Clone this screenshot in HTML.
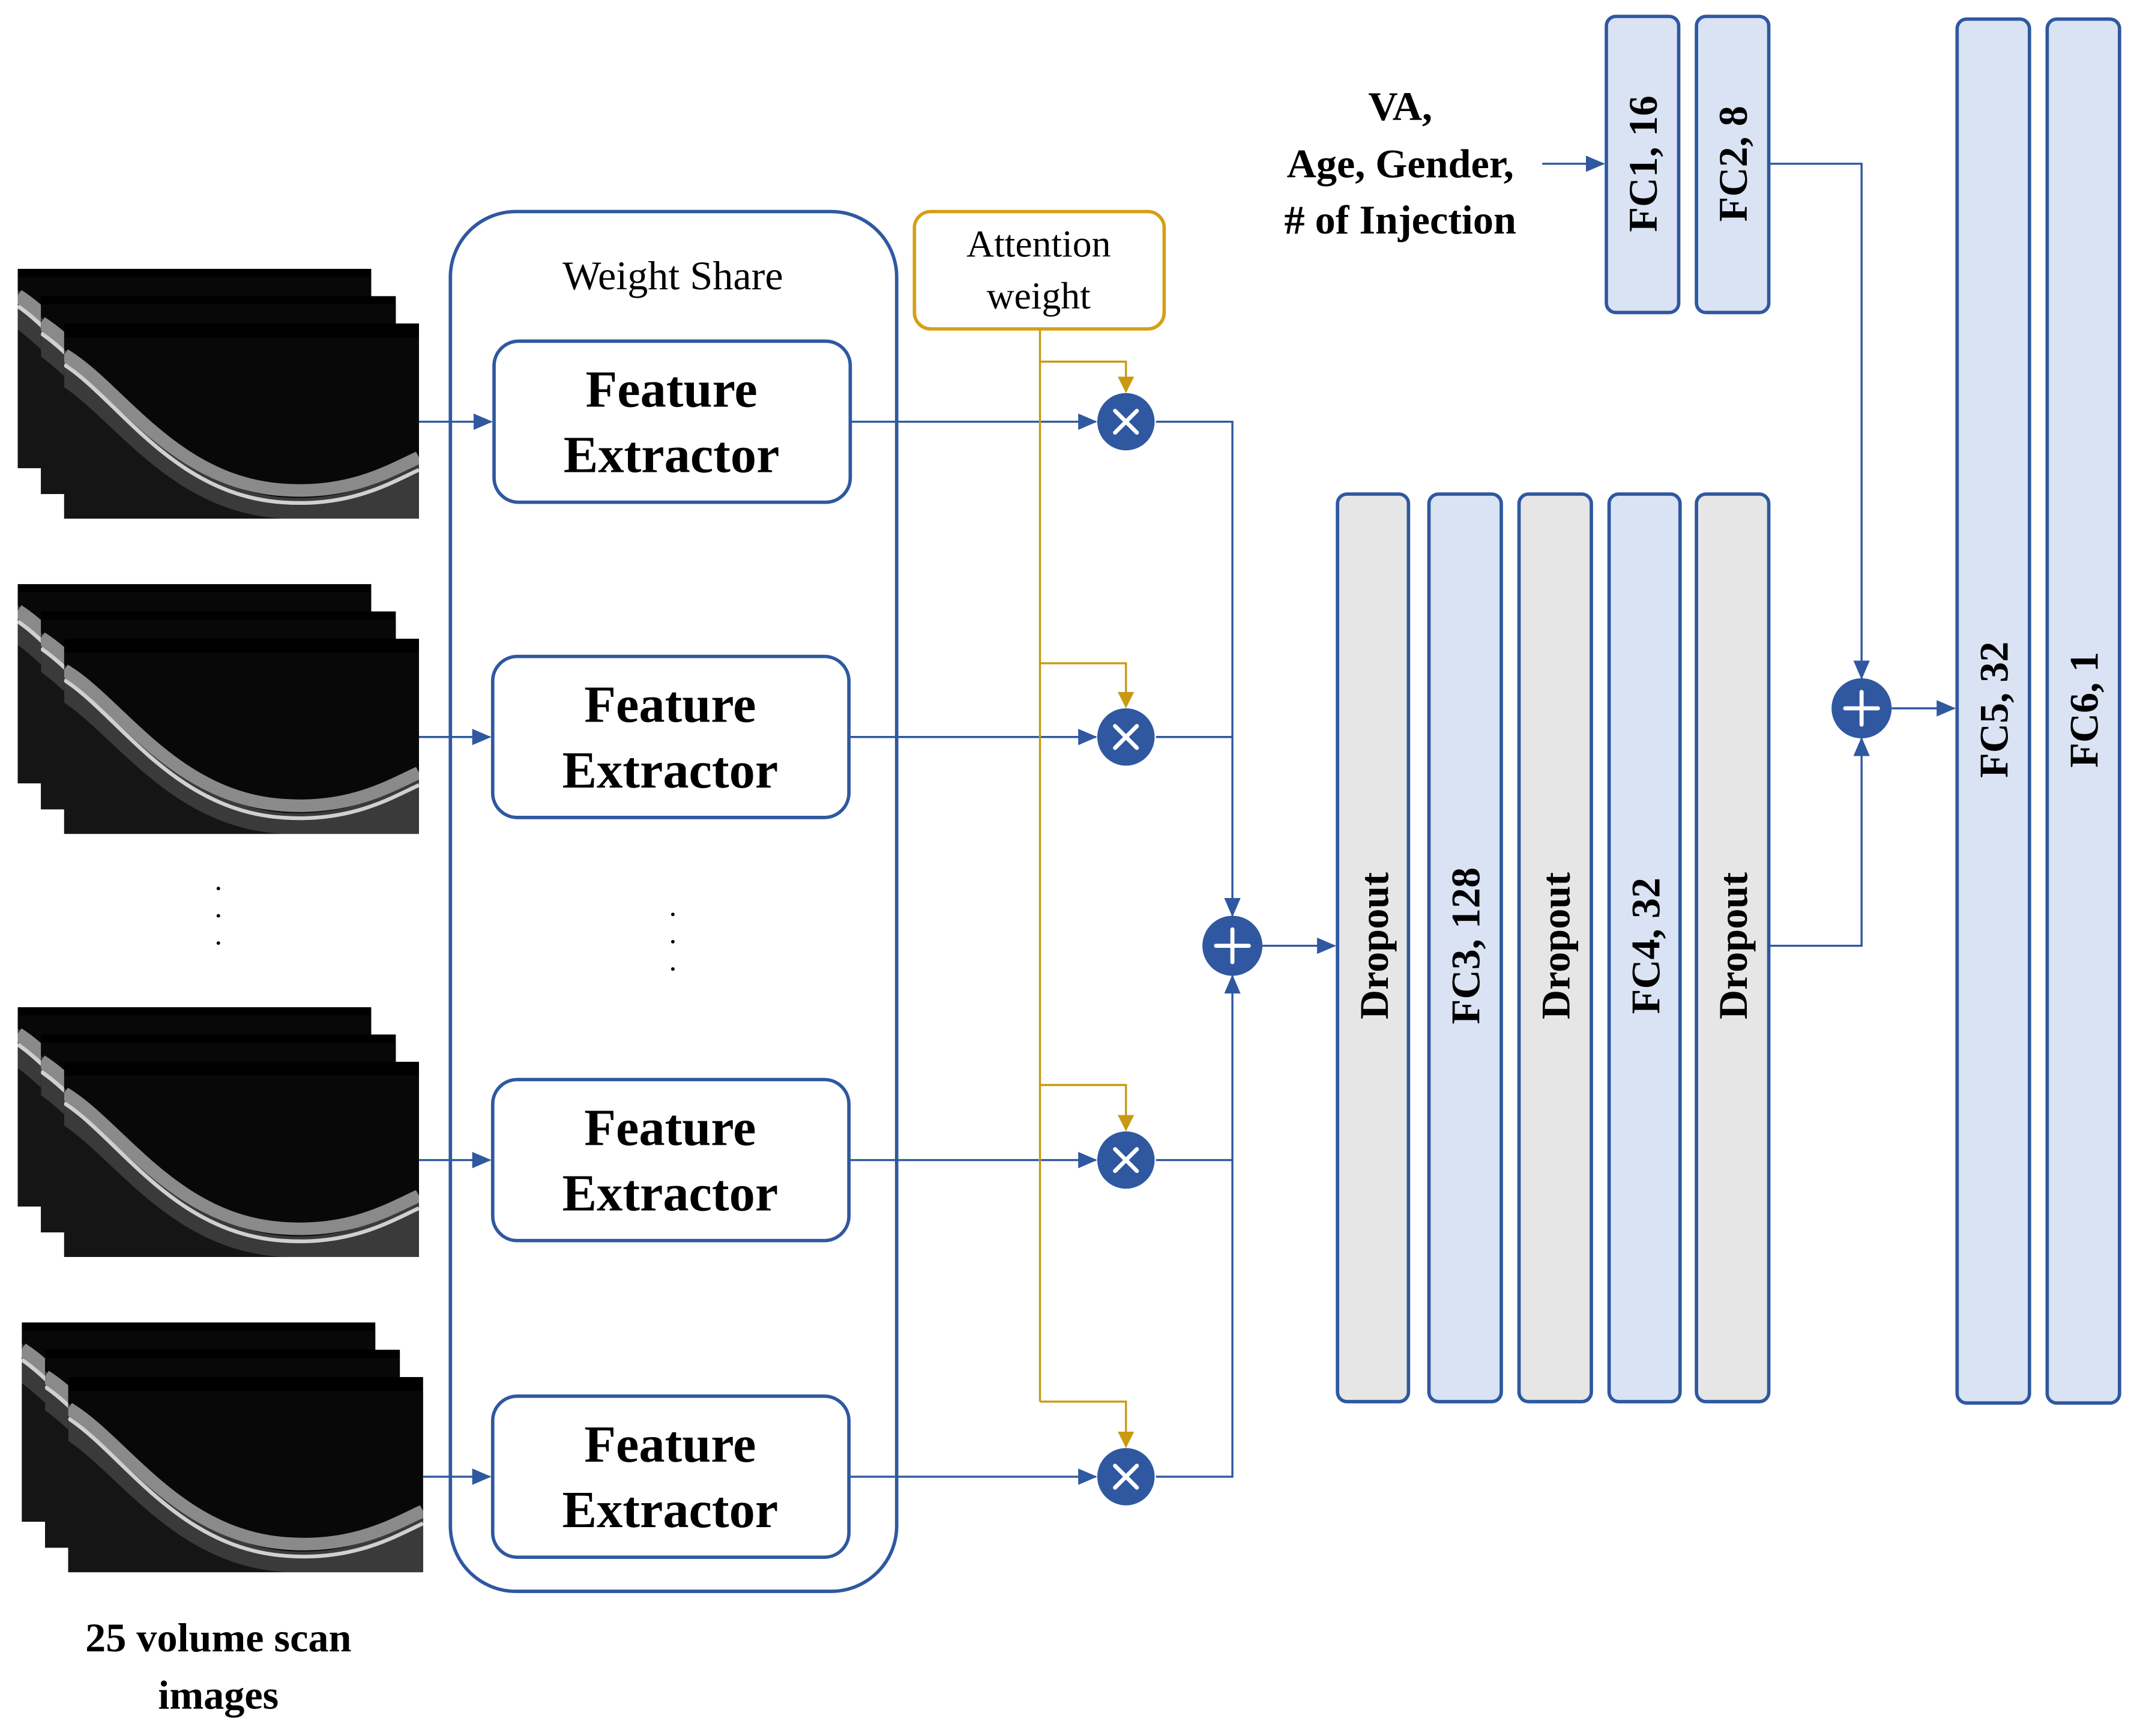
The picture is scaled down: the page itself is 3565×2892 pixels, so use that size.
<!DOCTYPE html>
<html><head><meta charset="utf-8"><style>html,body{margin:0;padding:0;background:#fff}svg{display:block}</style></head>
<body>
<svg width="3565" height="2892" viewBox="0 0 1568 1272" preserveAspectRatio="none" xmlns="http://www.w3.org/2000/svg">
<defs>
<marker id="ab" markerWidth="14" markerHeight="12" refX="13" refY="6" orient="auto" markerUnits="userSpaceOnUse"><path d="M0,0 L14,6 L0,12 z" fill="#2F58A0"/></marker>
<marker id="ag" markerWidth="12" markerHeight="12" refX="11" refY="6" orient="auto" markerUnits="userSpaceOnUse"><path d="M0,0 L12,6 L0,12 z" fill="#C99A10"/></marker>
<symbol id="oct" viewBox="0 0 260 145" preserveAspectRatio="none">
<rect width="260" height="145" fill="#080808"/>
<path d="M0,10 C40,40 80,120 160,128 C210,132 240,110 260,100 L260,145 L0,145 z" fill="#3a3a3a"/>
<path d="M0,14 C40,40 80,116 160,122 C210,126 240,106 260,96" fill="none" stroke="#8a8a8a" stroke-width="10"/>
<path d="M0,22 C40,50 80,126 160,132 C210,136 240,116 260,106" fill="none" stroke="#d0d0d0" stroke-width="3"/>
<path d="M0,40 C40,70 80,140 160,145 L0,145 z" fill="#151515"/>
</symbol>
<g id="stack">
<rect x="0" y="0" width="259" height="146" fill="#000"/>
<use href="#oct" x="0" y="6" width="259" height="140"/>
<rect x="17" y="20" width="260" height="145" fill="#000"/>
<use href="#oct" x="17" y="26" width="260" height="139"/>
<rect x="34" y="40" width="260" height="143" fill="#000"/>
<use href="#oct" x="34" y="50" width="260" height="133"/>
</g>
</defs>

<use href="#stack" x="13" y="197"/>
<use href="#stack" x="13" y="428"/>
<use href="#stack" x="13" y="738"/>
<use href="#stack" x="16" y="969"/>

<g fill="#000"><circle cx="160" cy="651" r="1.3"/><circle cx="160" cy="671" r="1.3"/><circle cx="160" cy="691" r="1.3"/>
<circle cx="493" cy="670" r="1.3"/><circle cx="493" cy="690" r="1.3"/><circle cx="493" cy="710" r="1.3"/></g>

<g font-family="Liberation Serif, serif" font-weight="bold" font-size="30" text-anchor="middle" fill="#000">
<text x="160" y="1210">25 volume scan</text><text x="160" y="1252">images</text>
</g>

<rect x="330" y="155" width="327" height="1011" rx="48" fill="none" stroke="#2F58A0" stroke-width="2.5"/>
<text x="493" y="212" font-family="Liberation Serif, serif" font-size="30" text-anchor="middle">Weight Share</text>

<rect x="670" y="155" width="183" height="86" rx="12" fill="#fff" stroke="#D4A017" stroke-width="2.5"/>
<g font-family="Liberation Serif, serif" font-size="28" text-anchor="middle"><text x="761" y="188">Attention</text><text x="761" y="226">weight</text></g>

<g fill="#fff" stroke="#2F58A0" stroke-width="2.5">
<rect x="362" y="250" width="261" height="118" rx="18"/>
<rect x="361" y="481" width="261" height="118" rx="18"/>
<rect x="361" y="791" width="261" height="118" rx="18"/>
<rect x="361" y="1023" width="261" height="118" rx="18"/>
</g>
<g font-family="Liberation Serif, serif" font-weight="bold" font-size="38" text-anchor="middle">
<text x="492" y="298">Feature</text><text x="492" y="346">Extractor</text>
<text x="491" y="529">Feature</text><text x="491" y="577">Extractor</text>
<text x="491" y="839">Feature</text><text x="491" y="887">Extractor</text>
<text x="491" y="1071">Feature</text><text x="491" y="1119">Extractor</text>
</g>

<g stroke="#2F58A0" stroke-width="1.5" fill="none">
<line x1="307" y1="309" x2="360" y2="309" marker-end="url(#ab)"/>
<line x1="307" y1="540" x2="359" y2="540" marker-end="url(#ab)"/>
<line x1="307" y1="850" x2="359" y2="850" marker-end="url(#ab)"/>
<line x1="310" y1="1082" x2="359" y2="1082" marker-end="url(#ab)"/>
<line x1="623" y1="309" x2="803" y2="309" marker-end="url(#ab)"/>
<line x1="622" y1="540" x2="803" y2="540" marker-end="url(#ab)"/>
<line x1="622" y1="850" x2="803" y2="850" marker-end="url(#ab)"/>
<line x1="622" y1="1082" x2="803" y2="1082" marker-end="url(#ab)"/>
<polyline points="847,309 903,309 903,671" marker-end="url(#ab)"/>
<line x1="847" y1="540" x2="903" y2="540"/>
<line x1="847" y1="850" x2="903" y2="850"/>
<polyline points="847,1082 903,1082 903,715" marker-end="url(#ab)"/>
<line x1="925" y1="693" x2="978" y2="693" marker-end="url(#ab)"/>
<line x1="1130" y1="120" x2="1175" y2="120" marker-end="url(#ab)"/>
<polyline points="1296,120 1364,120 1364,497" marker-end="url(#ab)"/>
<polyline points="1296,693 1364,693 1364,541" marker-end="url(#ab)"/>
<line x1="1386" y1="519" x2="1432" y2="519" marker-end="url(#ab)"/>
</g>

<g stroke="#C99A10" stroke-width="1.5" fill="none">
<line x1="762" y1="241" x2="762" y2="1027"/>
<polyline points="762,265 825,265 825,287" marker-end="url(#ag)"/>
<polyline points="762,486 825,486 825,518" marker-end="url(#ag)"/>
<polyline points="762,795 825,795 825,828" marker-end="url(#ag)"/>
<polyline points="762,1027 825,1027 825,1060" marker-end="url(#ag)"/>
</g>

<g fill="#2F58A0">
<circle cx="825" cy="309" r="21"/><circle cx="825" cy="540" r="21"/><circle cx="825" cy="850" r="21"/><circle cx="825" cy="1082" r="21"/>
<circle cx="903" cy="693" r="22"/><circle cx="1364" cy="519" r="22"/>
</g>
<g stroke="#fff" stroke-width="3" stroke-linecap="round">
<path d="M817,301 L833,317 M833,301 L817,317"/>
<path d="M817,532 L833,548 M833,532 L817,548"/>
<path d="M817,842 L833,858 M833,842 L817,858"/>
<path d="M817,1074 L833,1090 M833,1074 L817,1090"/>
<path d="M891,693 L915,693 M903,681 L903,705"/>
<path d="M1352,519 L1376,519 M1364,507 L1364,531"/>
</g>

<g stroke="#2F58A0" stroke-width="2.5">
<rect x="980" y="362" width="52" height="665" rx="7" fill="#E6E6E6"/>
<rect x="1047" y="362" width="53" height="665" rx="7" fill="#DAE3F3"/>
<rect x="1113" y="362" width="53" height="665" rx="7" fill="#E6E6E6"/>
<rect x="1179" y="362" width="52" height="665" rx="7" fill="#DAE3F3"/>
<rect x="1243" y="362" width="53" height="665" rx="7" fill="#E6E6E6"/>
<rect x="1177" y="12" width="53" height="217" rx="7" fill="#DAE3F3"/>
<rect x="1243" y="12" width="53" height="217" rx="7" fill="#DAE3F3"/>
<rect x="1434" y="14" width="53" height="1014" rx="7" fill="#DAE3F3"/>
<rect x="1500" y="14" width="53" height="1014" rx="7" fill="#DAE3F3"/>
</g>

<g font-family="Liberation Serif, serif" font-weight="bold" font-size="30" text-anchor="middle">
<text transform="translate(1017,693) rotate(-90)">Dropout</text>
<text transform="translate(1084,693) rotate(-90)">FC3, 128</text>
<text transform="translate(1150,693) rotate(-90)">Dropout</text>
<text transform="translate(1216,693) rotate(-90)">FC4, 32</text>
<text transform="translate(1280,693) rotate(-90)">Dropout</text>
<text transform="translate(1214,120) rotate(-90)">FC1, 16</text>
<text transform="translate(1280,120) rotate(-90)">FC2, 8</text>
<text transform="translate(1471,520) rotate(-90)">FC5, 32</text>
<text transform="translate(1537,520) rotate(-90)">FC6, 1</text>
<text x="1026" y="88">VA,</text>
<text x="1026" y="130">Age, Gender,</text>
<text x="1026" y="171"># of Injection</text>
</g>
</svg>
</body></html>
